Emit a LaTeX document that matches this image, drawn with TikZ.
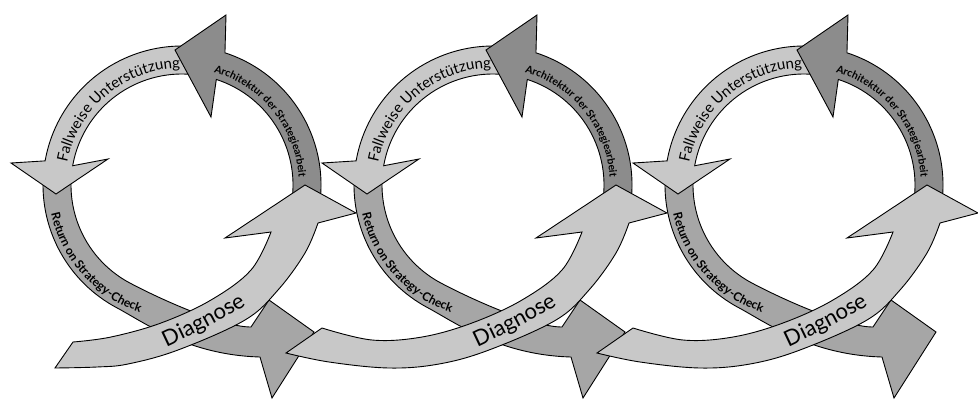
\documentclass[tikz,border=0pt]{standalone}
\usepackage{fontspec}
\setmainfont{Lato}
\usetikzlibrary{decorations.text}
\definecolor{lightg}{RGB}{200,200,200}
\definecolor{midg}{RGB}{166,166,166}
\definecolor{darkg}{RGB}{140,140,140}
\tikzset{
  band/.style={draw=black, line width=0.9pt},
  lightband/.style={band, fill=lightg},
  midband/.style={band, fill=midg},
  darkband/.style={band, fill=darkg},
  curvetext/.style={decorate, decoration={text along path, text align=center, text={#1}}}
}
\newcommand\ReturnShape{%
  \filldraw[midband] (183:139) arc[start angle=183, end angle=118, radius=139]
    .. controls (-38.8,136.8) and (6,170) .. (78,172)
    -- (90,213) -- (132,147) -- (87,115) -- (69,142)
    .. controls (40,142) and (-21.2,114.4) .. (118:111)
    arc[start angle=118, end angle=183, radius=111] -- cycle;}
\newcommand\FallShape{%
  \filldraw[lightband] (283:139) arc[start angle=283, end angle=190, radius=139]
    -- (-171,-22) -- (-126,9) -- (-74,-26) -- (190:111)
    arc[start angle=190, end angle=283, radius=111] -- cycle;}
\newcommand\ArchShape{%
  \filldraw[darkband] (12:139) arc[start angle=12, end angle=-72, radius=139]
    -- (44,-170) -- (-7,-135) -- (29,-68) -- (-72:111)
    arc[start angle=-72, end angle=12, radius=111] -- cycle;}
\newcommand\DiagShape[2]{%
  \filldraw[lightband] plot[smooth, tension=0.6] coordinates {#1 (-71,152) (-21,138) (29,115) (69,85) (89,47)}
    -- (43,53) -- (123,0) -- (174,28) -- (136,38)
    -- plot[smooth, tension=0.6] coordinates {(136,38) (123,68) (96,105) (63,135) (-4,165) (-54,179) #2} -- cycle;}
\newcommand\LoopTexts{%
  \path[curvetext={|\fontsize{15}{17}\selectfont|Fallweise Unterstützung}]
    (190:117) arc[start angle=190, end angle=270, radius=117];
  \path[curvetext={|\fontsize{10.5}{12}\selectfont\bfseries|Architektur der Strategiearbeit}]
    (-80:117) arc[start angle=-80, end angle=2, radius=117];
  \path[curvetext={|\fontsize{12}{14}\selectfont\bfseries|Return on Strategy-Check}]
    (174:134) arc[start angle=174, end angle=102, radius=134];
  \path[curvetext={|\fontsize{22}{24}\selectfont|Diagnose}]
    (-24,166) .. controls (6,152) and (40,136) .. (72,115);}
\newcommand\AtLoops[1]{\foreach \cx in {182,493,804}{\begin{scope}[shift={(\cx,185)}]#1\end{scope}}}
\begin{document}
\begin{tikzpicture}[x=1pt, y=-1pt]
  \useasboundingbox (0,0) rectangle (978,400);
  \AtLoops{\ReturnShape}
  \AtLoops{\FallShape}
  \AtLoops{\ArchShape}
  \begin{scope}[shift={(182,185)}]
    \DiagShape{(-109,157)}{(-85,182) (-127,183)}
  \end{scope}
  \begin{scope}[shift={(493,185)}]
    \DiagShape{(-171,143) (-121,155)}{(-104,183) (-164,177) (-207,168)}
  \end{scope}
  \begin{scope}[shift={(804,185)}]
    \DiagShape{(-171,143) (-121,155)}{(-104,183) (-164,177) (-207,168)}
  \end{scope}
  \AtLoops{\LoopTexts}
\end{tikzpicture}
\end{document}
